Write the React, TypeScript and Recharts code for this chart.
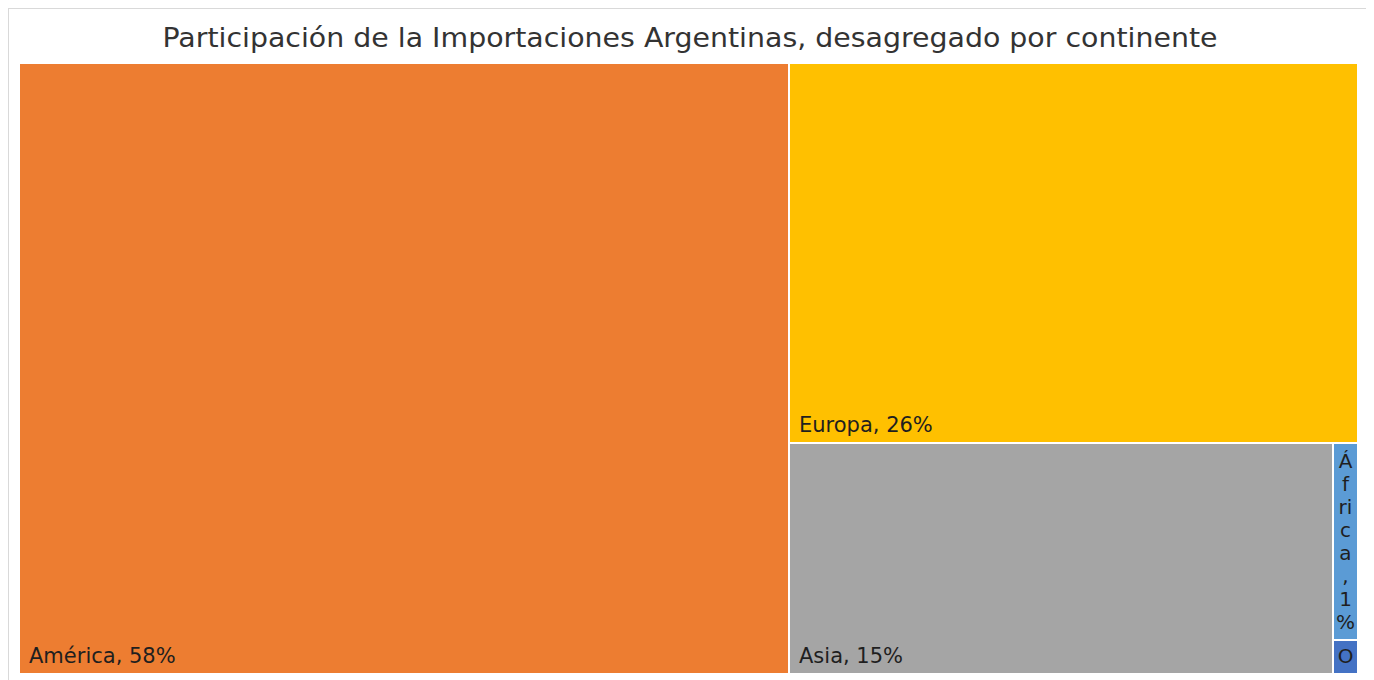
import React from 'react';
import { Treemap } from 'recharts';

const continents = ['América', 'Europa', 'Asia', 'África', 'Oceanía'];
const shares = [57.3, 26.3, 15.3, 0.6, 0.08];
const colors = ['#ED7D31', '#FFC000', '#A5A5A5', '#5B9BD5', '#4472C4'];
const title = 'Participación de la Importaciones Argentinas, desagregado por continente';

const total = shares.reduce((a, b) => a + b, 0);
const data = continents.map((name, i) => ({
  name,
  value: shares[i],
  label: `${name}, ${Math.round((shares[i] / total) * 100)}%`,
}));

const FONT = '"DejaVu Sans", sans-serif';
const FS = 21;
const LINE_H = 23;

function charW(ch: string): number {
  if ('ilrtj,.\' '.includes(ch)) return 0.3 * FS;
  if (ch === 'f') return 0.45 * FS;
  if ('%mwMW'.includes(ch)) return 0.9 * FS;
  return 0.6 * FS;
}

function wrap(text: string, avail: number): string[] {
  const lines: string[] = [];
  let line = '';
  let w = 0;
  for (const ch of text) {
    const cw = charW(ch);
    if (line.length > 0 && w + cw > avail) {
      lines.push(line.trim());
      line = ch === ' ' ? '' : ch;
      w = ch === ' ' ? 0 : cw;
    } else {
      line += ch;
      w += cw;
    }
  }
  if (line.trim()) lines.push(line.trim());
  return lines;
}

function NodeContent(props: any) {
  const { x, y, width, height, depth, index, label } = props;
  if (depth !== 1) return <g />;
  const rx = x + 1;
  const ry = y + 1;
  const rw = Math.max(0, width - 2);
  const rh = Math.max(0, height - 2);
  const narrow = rw < 60;
  const lines = wrap(label || '', narrow ? rw - 9 : rw - 16);
  const maxLines = Math.max(1, Math.floor(rh / LINE_H));
  const shown = lines.length > maxLines ? lines.slice(0, maxLines) : lines;
  const bottom = ry + rh - 10;
  return (
    <g>
      <rect x={rx} y={ry} width={rw} height={rh} fill={colors[index % colors.length]} stroke="none" />
      {shown.map((ln, i) => (
        <text
          key={i}
          x={narrow ? rx + rw / 2 : rx + 9}
          y={bottom - (shown.length - 1 - i) * LINE_H}
          textAnchor={narrow ? 'middle' : 'start'}
          fontFamily={FONT}
          fontSize={narrow ? 20 : FS}
          fill="#1f1f1f"
        >
          {ln}
        </text>
      ))}
    </g>
  );
}

export default function App() {
  return (
    <div
      style={{
        position: 'relative',
        width: 1361,
        height: 690,
        border: '1px solid #d9d9d9',
        background: '#fff',
        boxSizing: 'border-box',
      }}
    >
      <svg width={1359} height={50} style={{ position: 'absolute', left: 0, top: 0 }}>
        <text
          x={681}
          y={38}
          textAnchor="middle"
          fontFamily={FONT}
          fontSize={27}
          fill="#333333"
          textLength={1055}
          lengthAdjust="spacingAndGlyphs"
        >
          {title}
        </text>
      </svg>
      <div style={{ position: 'absolute', left: 10, top: 54 }}>
        <Treemap
          width={1339}
          height={611}
          data={data}
          dataKey="value"
          nameKey="name"
          aspectRatio={1}
          isAnimationActive={false}
          content={<NodeContent />}
        />
      </div>
    </div>
  );
}
